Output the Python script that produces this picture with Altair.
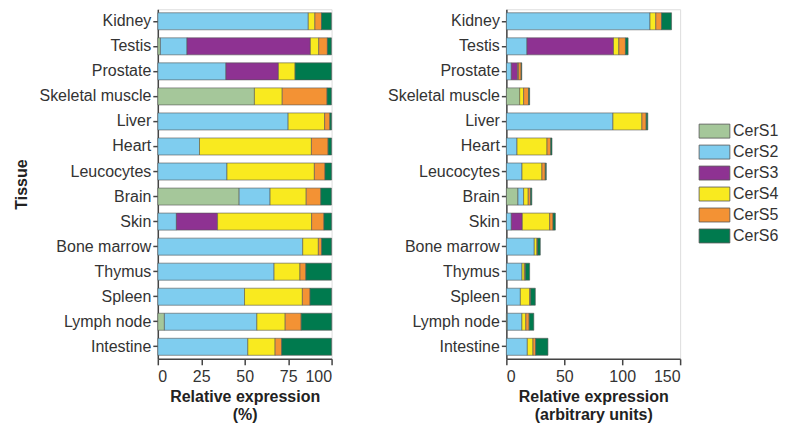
import altair as alt
import pandas as pd

tissues = ["Kidney", "Testis", "Prostate", "Skeletal muscle", "Liver", "Heart",
           "Leucocytes", "Brain", "Skin", "Bone marrow", "Thymus", "Spleen",
           "Lymph node", "Intestine"]
series = ["CerS1", "CerS2", "CerS3", "CerS4", "CerS5", "CerS6"]
colors = ["#a5c79a", "#7fcdef", "#8e3292", "#f9ea1f", "#f39234", "#007a4e"]

# Relative expression (%)
pct_s1 = [0, 1.5, 0, 55.6, 0, 0, 0, 46.8, 0, 0, 0, 0, 3.8, 0]
pct_s2 = [86.6, 15.3, 39.2, 0, 75, 24, 39.8, 17.8, 10.7, 83.4, 66.9, 49.9, 53.2, 51.8]
pct_s3 = [0, 71, 30.2, 0, 0, 0, 0, 0, 23.7, 0, 0, 0, 0, 0]
pct_s4 = [3.8, 4.8, 9.6, 16, 21, 64.4, 50.3, 20.8, 54.1, 9, 14.9, 33.3, 16.3, 15.7]
pct_s5 = [3.8, 5, 0, 25.8, 3, 9.6, 6.1, 8.4, 7.1, 1.9, 3.4, 4.4, 9.2, 3.8]
pct_s6 = [5.7, 2.3, 21, 2.5, 1, 2, 3.8, 6.1, 4.4, 5.7, 14.7, 12.4, 17.6, 28.7]

# Relative expression (arbitrary units)
abs_s1 = [0, 0, 0, 11.5, 0, 0, 0, 10, 0, 0, 0, 0, 0.8, 0]
abs_s2 = [124, 17.8, 4.3, 0, 92, 9.2, 13.5, 4.9, 4.3, 24.1, 13.5, 12.1, 12.6, 18.1]
abs_s3 = [0, 74.7, 5.5, 0, 0, 0, 0, 0, 9.5, 0, 0, 0, 0, 0]
abs_s4 = [5, 4.6, 0.6, 3.4, 25, 25.9, 17.2, 4, 23.6, 2.3, 2, 8, 3.4, 4.9]
abs_s5 = [5, 5.7, 2.4, 4.3, 3.7, 3.2, 2.9, 2, 2.9, 0.6, 0.9, 0.9, 2.9, 2.3]
abs_s6 = [8.6, 2.3, 0.5, 0.9, 1.4, 1.1, 0.9, 1.1, 2, 2.3, 3.7, 4, 4, 10.6]


def long(cols):
    rows = []
    for k, (name, vals) in enumerate(zip(series, cols)):
        for t, v in zip(tissues, vals):
            if v > 0:
                rows.append({"Tissue": t, "Isoform": name, "k": k, "v": v})
    return pd.DataFrame(rows)


df_pct = long([pct_s1, pct_s2, pct_s3, pct_s4, pct_s5, pct_s6])
df_abs = long([abs_s1, abs_s2, abs_s3, abs_s4, abs_s5, abs_s6])

FONT = "Liberation Sans"
AX = "#444444"
FS = 16

color = alt.Color(
    "Isoform:N",
    scale=alt.Scale(domain=series, range=colors),
    legend=alt.Legend(
        title=None,
        orient="none",
        legendX=541,
        legendY=114,
        symbolType="M-1,-1H3.4V1H-1Z",
        symbolSize=196,
        symbolStrokeColor="#555555",
        symbolStrokeWidth=0.8,
        symbolOpacity=1,
        labelFont=FONT,
        labelFontSize=FS,
        labelColor="#333333",
        labelOffset=19,
        rowPadding=3,
    ),
)

yscale = alt.Scale(domain=tissues, paddingInner=0.32, paddingOuter=0.14)


def panel(df, xtitle, xdomain, xticks, ytitle):
    yax = alt.Axis(
        title=ytitle, labelFont=FONT, labelFontSize=FS, labelColor="#333333",
        titleFont=FONT, titleFontSize=FS, titleFontWeight="bold", titleColor="#222222",
        titlePadding=9, tickSize=5, tickColor=AX, domainColor=AX, domainWidth=1.5,
        tickWidth=1.5, labelPadding=2,
    )
    xax = alt.Axis(
        title=xtitle, values=xticks, labelFont=FONT, labelFontSize=FS,
        labelColor="#333333", titleFont=FONT, titleFontSize=FS,
        titleFontWeight="bold", titleColor="#222222", tickSize=6, tickColor=AX,
        domainColor=AX, domainWidth=1.5, tickWidth=1.5, grid=False, labelPadding=4,
        titlePadding=4,
    )
    return alt.Chart(df).mark_bar(stroke="#555555", strokeWidth=0.6).encode(
        y=alt.Y("Tissue:N", scale=yscale, sort=tissues, axis=yax),
        x=alt.X("sum(v):Q", stack="zero", scale=alt.Scale(domain=xdomain, nice=False), axis=xax),
        color=color,
        order=alt.Order("k:Q"),
    ).properties(width=174, height=350)


left = panel(df_pct, ["Relative expression", "(%)"], [0, 100], [0, 25, 50, 75, 100], "Tissue")
right = panel(df_abs, ["Relative expression", "(arbitrary units)"], [0, 150], [0, 50, 100, 150], None)

chart = alt.hconcat(left, right, spacing=53).configure_view(stroke=None).configure(
    padding={"left": 5, "top": 0, "right": 0, "bottom": 0}
)

chart.save("out.html", embed_options={"renderer": "svg", "actions": False})
